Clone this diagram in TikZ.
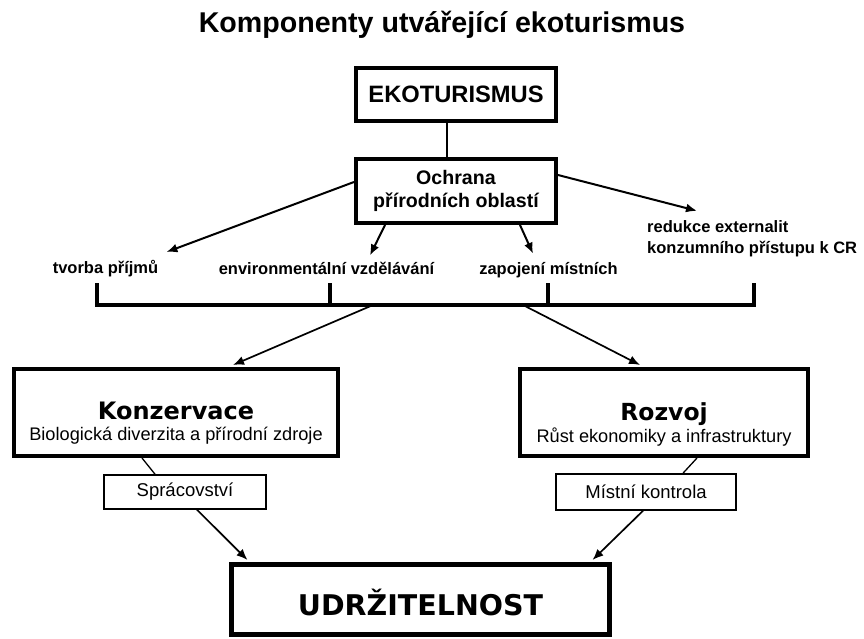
\documentclass[tikz,border=0pt]{standalone}
\usepackage{fontspec}
\setmainfont{Liberation Sans}
\newfontfamily\heavyfont{DejaVu Sans}
\usetikzlibrary{arrows.meta}
\newcommand{\fsz}[2]{\fontsize{#1}{#2}\selectfont}

\begin{document}
\begin{tikzpicture}[x=1pt, y=-1pt, >={Latex[length=11pt,width=9pt]},
  box/.style = {draw, line width=4pt, inner sep=0pt, align=center},
  smallbox/.style = {draw, line width=1.6pt, inner sep=0pt, font=\fsz{18.5}{22}},
  lbl/.style = {inner sep=2pt, font=\bfseries\fsz{16.5}{21}},
  arr/.style = {->, line width=2pt},
  thinarr/.style = {->, line width=1.7pt},
  bracket/.style = {line width=4pt}]
\useasboundingbox (0,0) rectangle (864,639);

\node[anchor=base, font=\bfseries\fsz{28.6}{34}] (title) at (442,33) {Komponenty utvářející ekoturismus};

\node[box, minimum width=200pt, minimum height=53pt, font=\bfseries\fsz{23.7}{28}] (eko) at (456,94.5) {EKOTURISMUS};
\node[box, minimum width=200pt, minimum height=64pt, font=\bfseries\fsz{19.6}{23}] (ochrana) at (456,191) {Ochrana\\přírodních oblastí};

\node[lbl, anchor=base] (tvorba) at (105.5,273) {tvorba příjmů};
\node[lbl, anchor=base] (envi) at (326.5,274) {environmentální vzdělávání};
\node[lbl, anchor=base] (zapojeni) at (548.5,274) {zapojení místních};
\node[lbl, anchor=base west, align=left] (redukce) at (645,253) {redukce externalit\\konzumního přístupu k CR};

\coordinate (brA) at (97,305);
\coordinate (brB) at (330,305);
\coordinate (brC) at (548,305);
\coordinate (brD) at (754,305);
\coordinate (brK) at (373,305);
\coordinate (brR) at (523,305);

\node[box, minimum width=324pt, minimum height=87pt, text height=60pt, text depth=5pt, font=\fsz{18.2}{21}] (konz) at (176,412.5) {{\heavyfont\bfseries\fsz{24}{21}Konzervace}\\Biologická diverzita a přírodní zdroje};
\node[box, minimum width=288pt, minimum height=87pt, text height=64pt, text depth=5pt, font=\fsz{18.2}{22}] (rozvoj) at (664,412.5) {{\heavyfont\bfseries\fsz{23.5}{22}Rozvoj}\\Růst ekonomiky a infrastruktury};

\node[smallbox, minimum width=162pt, minimum height=34pt] (sprac) at (185,492) {Sprácovství};
\node[smallbox, minimum width=180pt, minimum height=36pt] (mistni) at (646,492) {Místní kontrola};

\node[box, line width=5pt, minimum width=378pt, minimum height=70pt, text height=31pt, text depth=0pt, font=\heavyfont\bfseries\fsz{28.5}{34}] (udrz) at (420.5,599.5) {UDRŽITELNOST};

\draw[line width=1.5pt] ([xshift=-9pt]eko.south) -- ([xshift=-9pt]ochrana.north);
\draw[arr] ([yshift=9pt]ochrana.west) -- ([shift={(6pt,5.5pt)}]tvorba.north east);
\draw[arr] ([xshift=-71pt]ochrana.south) -- ([shift={(43.5pt,4pt)}]envi.north);
\draw[arr] ([xshift=64pt]ochrana.south) -- ([shift={(-15.5pt,6pt)}]zapojeni.north);
\draw[arr] ([yshift=16pt]ochrana.east) -- ([shift={(52pt,7pt)}]redukce.north west);

\draw[bracket] ([yshift=22pt]brA) -- (brA) -- (brD) -- ([yshift=22pt]brD);
\draw[bracket] (brB) -- ([yshift=22pt]brB);
\draw[bracket] (brC) -- ([yshift=22pt]brC);

\draw[thinarr] (brK) -- ([xshift=57pt,yshift=2pt]konz.north);
\draw[thinarr] (brR) -- ([xshift=-24pt,yshift=2pt]rozvoj.north);

\draw[line width=1.3pt] ([xshift=-34pt]konz.south) -- ([xshift=-30pt]sprac.north);
\draw[line width=1.3pt] ([xshift=33pt]rozvoj.south) -- ([xshift=37pt]mistni.north);
\draw[thinarr] ([xshift=12pt]sprac.south) -- ([xshift=-173pt,yshift=2pt]udrz.north);
\draw[thinarr] ([xshift=-3pt]mistni.south) -- ([xshift=172pt,yshift=2pt]udrz.north);
\end{tikzpicture}
\end{document}
